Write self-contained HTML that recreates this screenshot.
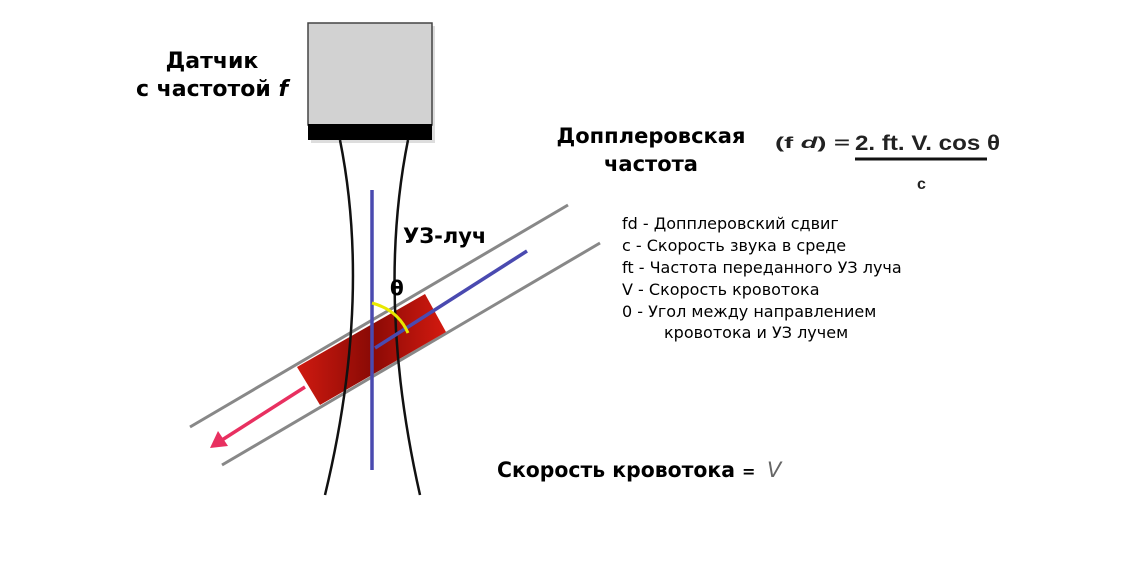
<!DOCTYPE html>
<html><head><meta charset="utf-8"><style>
body{margin:0;background:#fff;width:1138px;height:570px;overflow:hidden}
svg{display:block}
.b{font-family:"DejaVu Sans","Liberation Sans",sans-serif;font-weight:bold;fill:#000}
.l{font-family:"DejaVu Sans","Liberation Sans",sans-serif;fill:#000;font-size:16px}
</style></head><body>
<svg width="1138" height="570" viewBox="0 0 1138 570" xmlns="http://www.w3.org/2000/svg">
<defs>
<linearGradient id="rg" x1="0" y1="0" x2="1" y2="0">
<stop offset="0" stop-color="#d01a10"/><stop offset="0.5" stop-color="#8a0a05"/><stop offset="1" stop-color="#d41a10"/>
</linearGradient>
</defs>
<rect x="311" y="26" width="124" height="117" fill="#bbb" opacity="0.5"/>
<rect x="308" y="23" width="124" height="102" fill="#d2d2d2" stroke="#444" stroke-width="1.5"/>
<rect x="308" y="124" width="124" height="16" fill="#000"/>
<line x1="190" y1="427" x2="568" y2="205" stroke="#888" stroke-width="3"/>
<line x1="222" y1="465" x2="600" y2="243" stroke="#888" stroke-width="3"/>
<polygon points="297,367 425,294 446,332 320,405" fill="url(#rg)"/>
<path d="M340,140 Q372,300 325,495" fill="none" stroke="#111" stroke-width="2.5"/>
<path d="M408,140 Q376,300 420,495" fill="none" stroke="#111" stroke-width="2.5"/>
<line x1="372" y1="190" x2="372" y2="470" stroke="#4a4ab0" stroke-width="3.5"/>
<line x1="375" y1="348" x2="527" y2="251" stroke="#4a4ab0" stroke-width="3.5"/>
<path d="M372,303 Q398,310 408,333" fill="none" stroke="#e8e800" stroke-width="3"/>
<text x="390" y="295" class="b" font-size="20">θ</text>
<line x1="305" y1="387" x2="222" y2="440" stroke="#e83060" stroke-width="3.5"/>
<polygon points="210,448 218,431 228,446" fill="#e83060"/>
<text x="212" y="68" class="b" font-size="22" text-anchor="middle">Датчик</text>
<text x="212" y="96" class="b" font-size="22" text-anchor="middle">с частотой <tspan font-style="italic">f</tspan></text>
<text x="403" y="243" class="b" font-size="21">УЗ-луч</text>
<text x="651" y="143" class="b" font-size="21" text-anchor="middle">Допплеровская</text>
<text x="651" y="171" class="b" font-size="21" text-anchor="middle">частота</text>
<text x="775" y="148" font-family="Liberation Sans,sans-serif" font-weight="bold" font-size="16" fill="#222" textLength="75" lengthAdjust="spacingAndGlyphs">(f <tspan font-style="italic">d</tspan>) =</text>
<text x="855" y="150" font-family="Liberation Sans,sans-serif" font-weight="bold" font-size="21" fill="#222" textLength="145" lengthAdjust="spacingAndGlyphs">2. ft. V. cos θ</text>
<line x1="855" y1="159" x2="987" y2="159" stroke="#111" stroke-width="3"/>
<text x="917" y="189" font-family="Liberation Sans,sans-serif" font-weight="bold" font-size="16" fill="#222">c</text>
<text x="622" y="229" class="l">fd - Допплеровский сдвиг</text>
<text x="622" y="251" class="l">c -  Скорость звука в среде</text>
<text x="622" y="273" class="l">ft - Частота переданного УЗ луча</text>
<text x="622" y="295" class="l">V - Скорость кровотока</text>
<text x="622" y="317" class="l">0 -  Угол между направлением</text>
<text x="664" y="338" class="l">кровотока и УЗ лучем</text>
<text x="497" y="477" class="b" font-size="21" textLength="238" lengthAdjust="spacingAndGlyphs">Скорость кровотока</text>
<text x="742" y="477" class="b" font-size="16">=</text>
<text x="767" y="477" font-family="DejaVu Sans,sans-serif" font-style="italic" font-size="21" fill="#666">V</text>
</svg>
</body></html>
